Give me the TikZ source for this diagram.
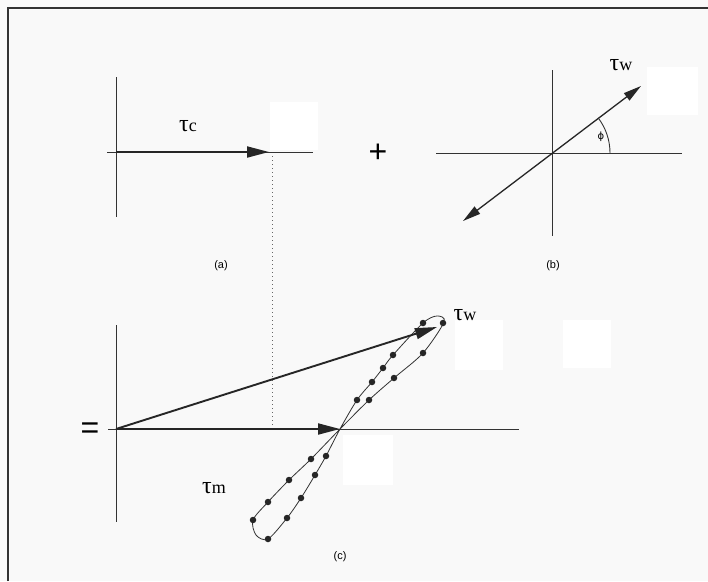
\documentclass[tikz,border=0pt]{standalone}
\usepackage{fontspec}
\setmainfont{Liberation Serif}
\newfontfamily\capfont{Liberation Sans}
\newfontfamily\phifont{DejaVu Sans}
\usetikzlibrary{arrows.meta}
\newcommand\tsubl[1]{{\fontsize{18}{18}\selectfont #1}}
\begin{document}
\begin{tikzpicture}[x=1pt,y=-1pt,
  axis/.style={line width=0.9pt, draw=black!80},
  vec/.style={line width=1.9pt, draw=black!85, -{Triangle[length=22pt,width=11pt]}},
  dvec/.style={line width=1.3pt, draw=black!85, {Triangle[length=18pt,width=9pt]}-{Triangle[length=18pt,width=9pt]}},
  loopline/.style={line width=0.8pt, draw=black!80},
  dotmark/.style={circle, fill=black!85, inner sep=0pt, minimum size=6.5pt},
  taulab/.style={inner sep=0pt, font=\fontsize{24}{24}\selectfont},
  caplab/.style={inner sep=0pt, font=\capfont\fontsize{11}{11}\selectfont},
  oplab/.style={inner sep=0pt, font=\capfont\fontsize{32}{32}\selectfont},
  mask/.style={fill=white, draw=none},
  frame/.style={line width=2pt, draw=black!80}
]
% page and background
\fill[black!2.5] (0,0) rectangle (708,581);
\useasboundingbox (0,0) rectangle (708,581);
\draw[frame] (8,581) -- (8,8) -- (708,8);

% white patches
\fill[mask] (270,102) rectangle (318,150);
\fill[mask] (647,67) rectangle (698,115);
\fill[mask] (455,320) rectangle (503,370);
\fill[mask] (563,320) rectangle (611,368);
\fill[mask] (343,435) rectangle (393,485);

% ---------- panel (a)
\coordinate (oa) at (116,152);
\coordinate (ay0) at (116,77);
\coordinate (ay1) at (116,217);
\coordinate (ax0) at (107,152);
\coordinate (ax1) at (313,152);
\coordinate (ta) at (269,152);
\draw[axis] (ay0) -- (ay1);
\draw[axis] (ax0) -- (ax1);
\draw[vec] (oa) -- (ta);
\node[taulab] (lc) at (188,126) {τ\tsubl{c}};
\node[caplab] (capa) at (221,266) {(a)};

% plus
\node[oplab] (plus) at (378,153) {+};

% ---------- panel (b)
\coordinate (ob) at (552,153);
\coordinate (by0) at (552,70);
\coordinate (by1) at (552,236);
\coordinate (bx0) at (436,153);
\coordinate (bx1) at (682,153);
\coordinate (bt1) at (641,86);
\coordinate (bt2) at (463,221);
\draw[axis] (by0) -- (by1);
\draw[axis] (bx0) -- (bx1);
\draw[dvec] (bt2) -- (bt1);
\draw[axis] ([shift={(0:58)}]ob) arc[start angle=0, end angle=-37, radius=58];
\node[inner sep=0pt, font=\phifont\fontsize{10}{10}\selectfont] (phi) at (601,137) {ϕ};
\node[taulab] (lwb) at (621,65) {τ\tsubl{w}};
\node[caplab] (capb) at (553,266) {(b)};

% ---------- panel (c)
\node[oplab] (eq) at (90,431) {=};
\coordinate (oc) at (116,429);
\coordinate (cy0) at (116,325);
\coordinate (cy1) at (116,522);
\coordinate (cx0) at (108,429);
\coordinate (cx1) at (519,429);
\coordinate (cross) at (340,429);
\coordinate (tw) at (437,327);
\draw[axis] (cy0) -- (cy1);
\draw[axis] (cx0) -- (cx1);

% dotted projection
\coordinate (dtop) at (272,156);
\coordinate (dbot) at (272,428);
\draw[black!60, line width=0.8pt, dash pattern=on 0.8pt off 3.2pt] (dtop) -- (dbot);

% loop
\draw[loopline] plot[smooth cycle, tension=0.5] coordinates {
  (340,429) (357,400) (372,382) (383,368) (393,355) (423,323)
  (437,316) (444,322) (423,353) (394,378) (369,400)
  (340,429) (311,459) (289,480) (268,502) (253,520)
  (256,535) (268,539) (287,518) (301,498) (315,475) (326,456)};
\foreach \p in {(357,400),(372,382),(383,368),(393,355),(423,323),(443,323),
                (423,353),(394,378),(369,400),(311,459),(289,480),(268,502),
                (253,520),(268,539),(287,518),(301,498),(315,475),(326,456)}
  \node[dotmark] at \p {};

\draw[vec] (oc) -- (cross);
\draw[vec] (oc) -- (tw);

\node[taulab] (lwc) at (465,315) {τ\tsubl{w}};
\node[taulab] (lm) at (214,488) {τ\tsubl{m}};
\node[caplab] (capc) at (340,557) {(c)};
\end{tikzpicture}
\end{document}
